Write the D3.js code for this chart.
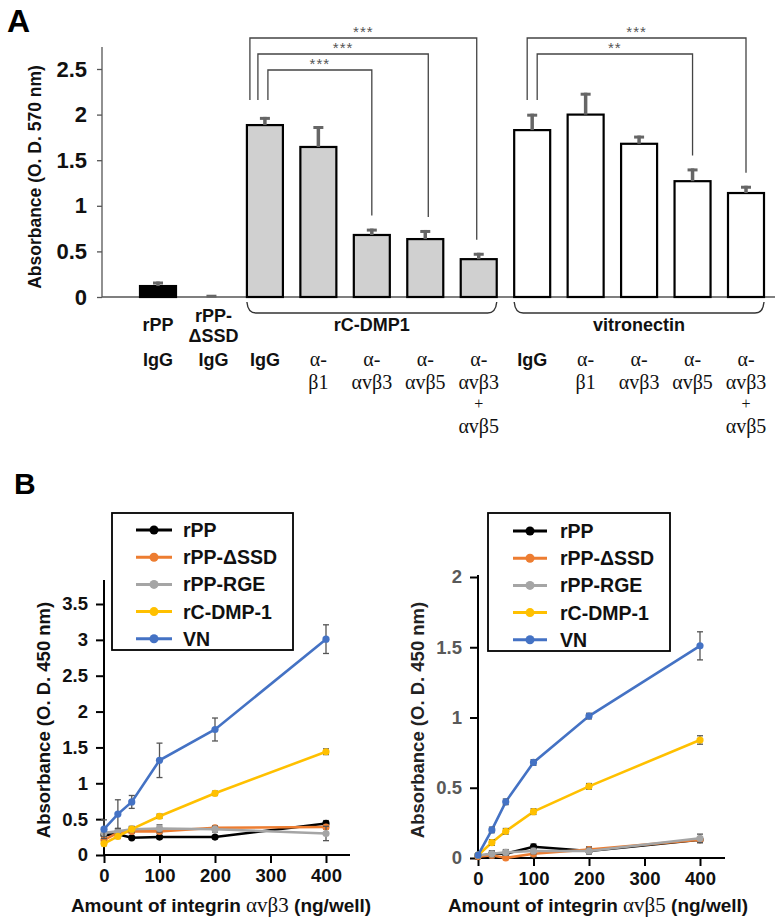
<!DOCTYPE html>
<html><head><meta charset="utf-8">
<script src="https://cdn.jsdelivr.net/npm/d3@7"></script>
<style>
body{margin:0;background:#fff;}
svg{display:block;font-family:"Liberation Sans",Arial,sans-serif;}
</style></head>
<body><svg id="c" width="780" height="923"></svg>
<script>
// ---------- Panel A data ----------
const barIds = ["rPP","rPPdSSD","DMP_IgG","DMP_b1","DMP_avb3","DMP_avb5","DMP_both","VN_IgG","VN_b1","VN_avb3","VN_avb5","VN_both"];
const barGroup = ["rPP","dSSD","DMP","DMP","DMP","DMP","DMP","VN","VN","VN","VN","VN"];
const barMeans = [0.12,0.0,1.885,1.645,0.68,0.635,0.415,1.83,2.0,1.68,1.27,1.14];
const barErrs  = [0.05,0.025,0.09,0.23,0.07,0.10,0.07,0.18,0.24,0.09,0.14,0.08];
const sampleLabels = [["rPP"],["rPP-","ΔSSD"],[],[],[],[],[],[],[],[],[],[]];
const antibodyLabels = [["IgG"],["IgG"],["IgG"],["α-","β1"],["α-","αvβ3"],["α-","αvβ5"],["α-","αvβ3","+","αvβ5"],
                        ["IgG"],["α-","β1"],["α-","αvβ3"],["α-","αvβ5"],["α-","αvβ3","+","αvβ5"]];
const groupNames = ["rC-DMP1","vitronectin"];
const groupSpans = [[2,6],[7,11]];
const yTicksA = [0,0.5,1,1.5,2,2.5];
// significance comparisons: [fromIndex, toIndex, label]
const sigComparisons = [[2,6,"***"],[2,5,"***"],[2,4,"***"],[7,11,"***"],[7,10,"**"]];

// ---------- Panel B data ----------
const integrinAmounts = [0,25,50,100,200,400];
const seriesNames = ["rPP","rPP-ΔSSD","rPP-RGE","rC-DMP-1","VN"];
const seriesColors = ["#000000","#ED7D31","#A5A5A5","#FFC000","#4472C4"];
// alpha v beta 3
const b3_rPP  = [0.28,0.29,0.24,0.25,0.25,0.44];
const b3_dSSD = [0.21,0.31,0.33,0.33,0.38,0.39];
const b3_RGE  = [0.31,0.33,0.36,0.37,0.36,0.30];
const b3_DMP  = [0.16,0.26,0.36,0.54,0.86,1.44];
const b3_VN   = [0.36,0.57,0.74,1.32,1.75,3.01];
const b3_rPP_err  = [0.03,0.02,0.02,0.02,0.02,0.04];
const b3_dSSD_err = [0.03,0.03,0.03,0.03,0.03,0.03];
const b3_RGE_err  = [0.05,0.04,0.04,0.05,0.04,0.10];
const b3_DMP_err  = [0.03,0.03,0.03,0.03,0.03,0.04];
const b3_VN_err   = [0.13,0.20,0.09,0.24,0.16,0.20];
// alpha v beta 5
const b5_rPP  = [0.01,0.03,0.03,0.08,0.05,0.13];
const b5_dSSD = [0.01,0.02,0.00,0.03,0.06,0.13];
const b5_RGE  = [0.02,0.03,0.04,0.05,0.05,0.14];
const b5_DMP  = [0.02,0.11,0.19,0.33,0.51,0.84];
const b5_VN   = [0.02,0.20,0.40,0.68,1.01,1.51];
const b5_rPP_err  = [0.01,0.02,0.02,0.02,0.02,0.02];
const b5_dSSD_err = [0.01,0.02,0.02,0.02,0.02,0.02];
const b5_RGE_err  = [0.01,0.02,0.02,0.02,0.02,0.03];
const b5_DMP_err  = [0.01,0.02,0.02,0.02,0.02,0.03];
const b5_VN_err   = [0.01,0.02,0.02,0.02,0.02,0.10];
const b3Ticks = [0,0.5,1,1.5,2,2.5,3,3.5];
const b5Ticks = [0,0.5,1,1.5,2];
const xTicksB = [0,100,200,300,400];

const svg = d3.select("#c");
const SANS = '"Liberation Sans",Arial,sans-serif';
const SERIF = '"Liberation Serif","Times New Roman",serif';

// ================= PANEL A =================
svg.append("text").attr("x",7).attr("y",32).attr("font-size",32).attr("font-weight","bold").text("A");

const yA = d3.scaleLinear().domain([0,2.5]).range([297,69]);
const xA = d3.scalePoint().domain(barIds).range([158,746]);
const bw = 36;
const fillOf = g => g==="rPP" ? "#000" : g==="dSSD" ? "#666" : g==="DMP" ? "#d0d0d0" : "#fff";

const gAy = svg.append("g").attr("transform","translate(102,0)")
  .call(d3.axisLeft(yA).tickValues(yTicksA).tickFormat(d3.format("")).tickSize(5).tickPadding(10));
gAy.select(".domain").remove();
gAy.selectAll(".tick line").attr("stroke","#555").attr("stroke-width",1.3);
gAy.selectAll(".tick text").attr("font-size",22).attr("font-weight","bold").attr("fill","#111")
  .attr("font-family",SANS);
svg.append("line").attr("x1",102).attr("x2",102).attr("y1",47).attr("y2",yA(0)).attr("stroke","#555").attr("stroke-width",1.3);
svg.append("line").attr("x1",102).attr("x2",775).attr("y1",yA(0)).attr("y2",yA(0)).attr("stroke","#555").attr("stroke-width",1.5);

svg.append("text").attr("transform","translate(41,177) rotate(-90)").attr("text-anchor","middle")
  .attr("font-size",17.5).attr("font-weight","bold").attr("fill","#111").text("Absorbance (O. D. 570 nm)");

// bars
barIds.forEach((id,i)=>{
  const v = barMeans[i], cx = xA(id);
  if (v>0) {
    svg.append("rect").attr("x",cx-bw/2).attr("y",yA(v)).attr("width",bw).attr("height",yA(0)-yA(v))
      .attr("fill",fillOf(barGroup[i])).attr("stroke","#000").attr("stroke-width",2.2);
  }
  const top = yA(v+barErrs[i]);
  if (v>0) svg.append("line").attr("x1",cx).attr("x2",cx).attr("y1",yA(v)).attr("y2",top).attr("stroke","#666").attr("stroke-width",3.5);
  svg.append("line").attr("x1",cx-5).attr("x2",cx+5).attr("y1",top+1.5).attr("y2",top+1.5).attr("stroke","#666").attr("stroke-width",3);
});

// significance brackets
const leftOffsets = {2:[-15,-7,3], 7:[-5,5]};
const usedLeft = {};
const bracketTops = [38,54,70,38,54];
sigComparisons.forEach((c,k)=>{
  const [a,b,lab] = c;
  usedLeft[a] = (usedLeft[a]||0);
  const lx = xA(barIds[a]) + leftOffsets[a][usedLeft[a]++];
  const rx = xA(barIds[b]) + (b===6?-2:(b===5?3:0));
  const ty = bracketTops[k];
  const rb = yA(barMeans[b]+barErrs[b]) - 13;
  svg.append("path").attr("d",`M${lx},100 L${lx},${ty} L${rx},${ty} L${rx},${rb}`)
    .attr("fill","none").attr("stroke","#444").attr("stroke-width",1.3);
  svg.append("text").attr("x",(lx+rx)/2).attr("y",ty-1).attr("text-anchor","middle")
    .attr("font-size",15).attr("fill","#555").attr("letter-spacing",1).text(lab);
});

// group braces
groupSpans.forEach((s,k)=>{
  const x1 = xA(barIds[s[0]])-bw/2, x2 = xA(barIds[s[1]])+bw/2;
  svg.append("path").attr("d",`M${x1},302 Q${x1+1},313 ${x1+9},313 L${x2-9},313 Q${x2-1},313 ${x2},302`)
    .attr("fill","none").attr("stroke","#333").attr("stroke-width",1.4);
  svg.append("text").attr("x",(x1+x2)/2).attr("y",331).attr("text-anchor","middle")
    .attr("font-size",18).attr("font-weight","bold").attr("fill","#111").text(groupNames[k]);
});

// category labels
barIds.forEach((id,i)=>{
  const cx = xA(id) + (i===1?2:0);
  const sl = sampleLabels[i];
  const sBase = sl.length===1 ? [331] : [322,342];
  sl.forEach((t,j)=>svg.append("text").attr("x",cx).attr("y",sBase[j]).attr("text-anchor","middle")
    .attr("font-size",18).attr("font-weight","bold").attr("fill","#111").text(t));
  const ab = antibodyLabels[i];
  const base = [366,389,409,433];
  ab.forEach((t,j)=>{
    const isIgG = t==="IgG";
    svg.append("text").attr("x",cx).attr("y",base[j]).attr("text-anchor","middle")
      .attr("font-size",isIgG?18:(t==="+"?16:20)).attr("font-weight",isIgG?"bold":"normal")
      .attr("font-family",isIgG?SANS:SERIF)
      .attr("fill","#111").text(t);
  });
});

// ================= PANEL B =================
svg.append("text").attr("x",14).attr("y",494).attr("font-size",30).attr("font-weight","bold").text("B");

function lineChart(cfg){
  const x = d3.scaleLinear().domain([0,400]).range(cfg.xr);
  const y = d3.scaleLinear().domain(cfg.yd).range(cfg.yr);
  const gy = svg.append("g").attr("transform",`translate(${cfg.xr[0]},0)`)
    .call(d3.axisLeft(y).tickValues(cfg.yTicks).tickFormat(d3.format("")).tickSize(8).tickPadding(8));
  gy.select(".domain").remove();
  gy.selectAll(".tick line").attr("stroke","#000").attr("stroke-width",2);
  gy.selectAll(".tick text").attr("font-size",18.5).attr("font-weight","bold").attr("fill",cfg.yTickColor)
    .attr("font-family",SANS);
  svg.append("line").attr("x1",cfg.xr[0]).attr("x2",cfg.xr[0]).attr("y1",cfg.axisTop).attr("y2",cfg.yr[0]+1)
    .attr("stroke","#000").attr("stroke-width",2);
  const gx = svg.append("g").attr("transform",`translate(0,${cfg.yr[0]})`)
    .call(d3.axisBottom(x).tickValues(xTicksB).tickFormat(d3.format("d")).tickSize(8).tickPadding(6));
  gx.select(".domain").remove();
  gx.selectAll(".tick line").attr("stroke","#000").attr("stroke-width",2);
  gx.selectAll(".tick text").attr("font-size",18.5).attr("font-weight","bold").attr("fill","#111")
    .attr("font-family",SANS);
  svg.append("line").attr("x1",cfg.xr[0]-1).attr("x2",cfg.axisRight).attr("y1",cfg.yr[0]).attr("y2",cfg.yr[0])
    .attr("stroke","#000").attr("stroke-width",2);
  svg.append("text").attr("transform",`translate(${cfg.yTitleX},720) rotate(-90)`).attr("text-anchor","middle")
    .attr("font-size",18.5).attr("font-weight","bold").attr("fill",cfg.yTitleColor).text("Absorbance (O. D. 450 nm)");
  const xt = svg.append("text").attr("x",cfg.xTitleX).attr("y",912).attr("text-anchor","middle")
    .attr("font-size",19).attr("font-weight","bold").attr("fill","#111");
  xt.append("tspan").text("Amount of integrin ");
  xt.append("tspan").attr("font-family",SERIF).attr("font-weight","normal").attr("font-size",21).text(cfg.integrin);
  xt.append("tspan").text(" (ng/well)");
  const line = d3.line().x(d=>x(d.x)).y(d=>y(d.y));
  cfg.series.forEach((s,k)=>{
    const pts = integrinAmounts.map((a,i)=>({x:a,y:s.v[i],e:s.e[i]}));
    const g = svg.append("g");
    g.append("path").datum(pts).attr("d",line).attr("fill","none").attr("stroke",seriesColors[k]).attr("stroke-width",2.6);
    pts.forEach(p=>{
      const px = x(p.x), y1 = y(p.y+p.e), y2 = y(Math.max(0,p.y-p.e));
      g.append("line").attr("x1",px).attr("x2",px).attr("y1",y1).attr("y2",y2).attr("stroke","#555").attr("stroke-width",1.3);
      g.append("line").attr("x1",px-3).attr("x2",px+3).attr("y1",y1).attr("y2",y1).attr("stroke","#555").attr("stroke-width",1.3);
      g.append("line").attr("x1",px-3).attr("x2",px+3).attr("y1",y2).attr("y2",y2).attr("stroke","#555").attr("stroke-width",1.3);
      g.append("circle").attr("cx",px).attr("cy",y(p.y)).attr("r",3.6).attr("fill",seriesColors[k]);
    });
  });
  const L = cfg.legend;
  svg.append("rect").attr("x",L.x).attr("y",L.y).attr("width",L.w).attr("height",L.h)
    .attr("fill","#fff").attr("stroke","#000").attr("stroke-width",1.8);
  seriesNames.forEach((n,k)=>{
    const ly = L.y0 + k*27.2;
    svg.append("line").attr("x1",L.lx1).attr("x2",L.lx2).attr("y1",ly).attr("y2",ly).attr("stroke",seriesColors[k]).attr("stroke-width",3);
    svg.append("circle").attr("cx",(L.lx1+L.lx2)/2).attr("cy",ly).attr("r",4.5).attr("fill",seriesColors[k]);
    svg.append("text").attr("x",L.tx).attr("y",ly+7).attr("font-size",19.5).attr("font-weight","bold").attr("fill","#111").text(n);
  });
}

lineChart({
  xr:[104,326], yd:[0,3.5], yr:[855,604], yTicks:b3Ticks, axisTop:580, axisRight:350,
  yTickColor:"#111", yTitleX:50, yTitleColor:"#111", xTitleX:221, integrin:"αvβ3",
  series:[{v:b3_rPP,e:b3_rPP_err},{v:b3_dSSD,e:b3_dSSD_err},{v:b3_RGE,e:b3_RGE_err},{v:b3_DMP,e:b3_DMP_err},{v:b3_VN,e:b3_VN_err}],
  legend:{x:112,y:513,w:181,h:137,y0:530,lx1:136,lx2:172,tx:183}
});
lineChart({
  xr:[478,700], yd:[0,2], yr:[858,577], yTicks:b5Ticks, axisTop:575, axisRight:725,
  yTickColor:"#595959", yTitleX:424, yTitleColor:"#222", xTitleX:598, integrin:"αvβ5",
  series:[{v:b5_rPP,e:b5_rPP_err},{v:b5_dSSD,e:b5_dSSD_err},{v:b5_RGE,e:b5_RGE_err},{v:b5_DMP,e:b5_DMP_err},{v:b5_VN,e:b5_VN_err}],
  legend:{x:488,y:513,w:182,h:138,y0:531,lx1:513,lx2:547,tx:560}
});
</script></body></html>
